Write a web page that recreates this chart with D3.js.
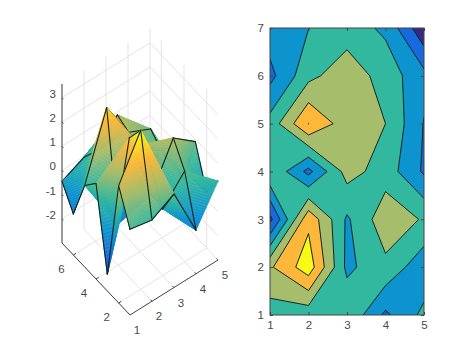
<!DOCTYPE html>
<html>
<head>
<meta charset="utf-8">
<script src="https://cdn.jsdelivr.net/npm/d3@7"></script>
<style>
body { margin: 0; background: #fff; }
text { font-family: "Liberation Sans", sans-serif; font-size: 11.5px; fill: #4a4a4a; }
</style>
</head>
<body>
<div id="chart"></div>
<script>
// grid values
const xVals = [1, 2, 3, 4, 5];
const yVals = [1, 2, 3, 4, 5, 6, 7];
const zY1 = [0.54, 0.36, 0.87, -1.2, 0.26];
const zY2 = [1.85, 3.57, -0.25, 0.75, -0.7];
const zY3 = [-2.3, 2.76, -0.15, 1.62, 0.9];
const zY4 = [0.95, -1.3, 1.4, 0.55, -1.15];
const zY5 = [0.37, 3.02, 1.43, 1.0, -1.05];
const zY6 = [-1.3, 0.7, 1.65, 0.55, -0.7];
const zY7 = [-0.45, -0.02, 0.46, -0.18, -2.8];
const zRows = [zY1, zY2, zY3, zY4, zY5, zY6, zY7];

const levels = [-2, -1, 0, 1, 2, 3];
const xTicks = [1, 2, 3, 4, 5];
const yTicks3d = [2, 4, 6];
const yTicks2d = [1, 2, 3, 4, 5, 6, 7];
const zTicks = [-2, -1, 0, 1, 2, 3];
const parula = ["#352a87", "#1769de", "#0d94cf", "#33b8a0", "#a6bd6c", "#fdb83c", "#f9fa14"];

const lineColor = "#444";
const gridColor = "#e4e4e4";
const meshColor = "#14241c";

const svg = d3.select("#chart")
    .append("svg")
        .attr("width", 474)
        .attr("height", 355)
        .style("display", "block");

// colormap, 0..1
const colormap = d3.scaleLinear()
    .domain(parula.map(function(d, i) { return i / (parula.length - 1); }))
    .range(parula);

const zMin = d3.min(zRows, function(r) { return d3.min(r); });
const zMax = d3.max(zRows, function(r) { return d3.max(r); });
const surfColor = d3.scaleLinear().domain([zMin, zMax]).range([0, 1]);

// ---------- left panel: 3d surface ----------
// oblique projection, one scale per axis and screen direction
const originX = 130, originY = 315;
const xToPx = d3.scaleLinear().domain([1, 5]).range([0, 88]);
const xToPy = d3.scaleLinear().domain([1, 5]).range([0, -55]);
const yToPx = d3.scaleLinear().domain([1, 7]).range([0, -68]);
const yToPy = d3.scaleLinear().domain([1, 7]).range([0, -72]);
const zToPy = d3.scaleLinear().domain([-3, zMax]).range([0, -159]);

function project(p) {
    return [
        originX + xToPx(p[0]) + yToPx(p[1]),
        originY + xToPy(p[0]) + yToPy(p[1]) + zToPy(p[2])
    ];
}

const line = d3.line();
const floorZ = -3;
const topZ = zMax;
const box = svg.append("g");

function seg(a, b, color) {
    box.append("path")
        .attr("d", line([project(a), project(b)]))
        .attr("fill", "none")
        .attr("stroke", color)
        .attr("stroke-width", 1);
}

// grid on the floor and the two back walls
xTicks.forEach(function(x) {
    seg([x, 1, floorZ], [x, 7, floorZ], gridColor);
    seg([x, 7, floorZ], [x, 7, topZ], gridColor);
});
yTicks3d.forEach(function(y) {
    seg([1, y, floorZ], [5, y, floorZ], gridColor);
    seg([5, y, floorZ], [5, y, topZ], gridColor);
});
zTicks.forEach(function(z) {
    seg([1, 7, z], [5, 7, z], gridColor);
    seg([5, 7, z], [5, 1, z], gridColor);
});

// axis lines and ticks
seg([1, 1, floorZ], [5, 1, floorZ], lineColor);
seg([1, 1, floorZ], [1, 7, floorZ], lineColor);
seg([1, 7, floorZ], [1, 7, topZ], lineColor);
xTicks.forEach(function(x) { seg([x, 1, floorZ], [x, 1.12, floorZ], lineColor); });
yTicks3d.forEach(function(y) { seg([1, y, floorZ], [1.12, y, floorZ], lineColor); });
zTicks.forEach(function(z) { seg([1, 7, z], [1, 6.88, z], lineColor); });

// tick labels
xTicks.forEach(function(x) {
    const p = project([x, 1, floorZ]);
    box.append("text").attr("x", p[0] + 7).attr("y", p[1] + 19).attr("text-anchor", "middle").text(x);
});
yTicks3d.forEach(function(y) {
    const p = project([1, y, floorZ]);
    box.append("text").attr("x", p[0] - 12).attr("y", p[1] + 18).attr("text-anchor", "middle").text(y);
});
zTicks.forEach(function(z) {
    const p = project([1, 7, z]);
    box.append("text").attr("x", p[0] - 6).attr("y", p[1] + 0).attr("text-anchor", "end").text(String(z));
});

// keep the part of a polygon on one side of a z value
function clipZ(poly, z0, keepAbove) {
    const out = [];
    poly.forEach(function(a, i) {
        const b = poly[(i + 1) % poly.length];
        const aIn = keepAbove ? a[2] >= z0 : a[2] <= z0;
        const bIn = keepAbove ? b[2] >= z0 : b[2] <= z0;
        if (aIn) out.push(a);
        if (aIn !== bIn) {
            const t = (z0 - a[2]) / (b[2] - a[2]);
            out.push([a[0] + (b[0] - a[0]) * t, a[1] + (b[1] - a[1]) * t, z0]);
        }
    });
    return out;
}

// interpolated shading: cut every triangle into thin bands of equal z
const items = [];
const bandEdges = d3.range(0, 129).map(d3.scaleLinear().domain([0, 128]).range([zMin, zMax]));

function addTriangle(tri) {
    const lo = d3.min(tri, function(p) { return p[2]; });
    const hi = d3.max(tri, function(p) { return p[2]; });
    d3.pairs(bandEdges).forEach(function(e) {
        if (e[1] < lo || e[0] > hi) return;
        const piece = clipZ(clipZ(tri, e[0], true), e[1], false);
        if (piece.length < 3) return;
        const color = colormap(surfColor((e[0] + e[1]) / 2));
        items.push({d: line(piece.map(project)) + "Z", fill: color, stroke: color, width: 0.6});
    });
}

function addEdge(a, b) {
    items.push({d: line([project(a), project(b)]), fill: "none", stroke: meshColor, width: 1.1});
}

// paint from the far corner to the near one. An edge goes right after the
// far triangle that owns it: that triangle cannot hide its own edge, the near
// one still can hide it where the surface folds over
for (let r = yVals.length - 2; r >= 0; r--) {
    for (let c = xVals.length - 2; c >= 0; c--) {
        const p00 = [xVals[c], yVals[r], zRows[r][c]];
        const p10 = [xVals[c + 1], yVals[r], zRows[r][c + 1]];
        const p01 = [xVals[c], yVals[r + 1], zRows[r + 1][c]];
        const p11 = [xVals[c + 1], yVals[r + 1], zRows[r + 1][c + 1]];
        addTriangle([p10, p11, p01]);
        addEdge(p01, p11);
        addEdge(p10, p11);
        addTriangle([p00, p10, p01]);
        // front rim, the reference has no line on its last stretch
        if (r === 0 && c < xVals.length - 2) addEdge(p00, p10);
        if (c === 0) addEdge(p00, p01);
    }
}

svg.append("g")
    .selectAll("path")
    .data(items)
    .join("path")
        .attr("d", function(d) { return d.d; })
        .attr("fill", function(d) { return d.fill; })
        .attr("stroke", function(d) { return d.stroke; })
        .attr("stroke-width", function(d) { return d.width; })
        .attr("stroke-linecap", "round")
        .attr("stroke-linejoin", "round");

// ---------- right panel: filled contour ----------
const margin = {top: 28, right: 50, bottom: 40, left: 270};
const width = 474 - margin.left - margin.right;
const height = 355 - margin.top - margin.bottom;

const panel = svg.append("g")
    .attr("transform", `translate(${margin.left}, ${margin.top})`);

const xScale = d3.scaleLinear().domain([1, 5]).range([0, width]);
const yScale = d3.scaleLinear().domain([1, 7]).range([height, 0]);
const bandColor = d3.scaleLinear().domain([-3, 3]).range([0, 1]);

// marching squares with straight pieces in each cell. d3.contours settles
// saddle cells its own way, here the mean of the corners decides
function contourLevel(level) {
    let fill = "", stroke = "";
    const toPath = function(pts) {
        return line(pts.map(function(p) { return [xScale(p[0]), yScale(p[1])]; }));
    };
    for (let r = 0; r < yVals.length - 1; r++) {
        for (let c = 0; c < xVals.length - 1; c++) {
            const corners = [
                [xVals[c], yVals[r], zRows[r][c]],
                [xVals[c + 1], yVals[r], zRows[r][c + 1]],
                [xVals[c + 1], yVals[r + 1], zRows[r + 1][c + 1]],
                [xVals[c], yVals[r + 1], zRows[r + 1][c]]
            ];
            const above = corners.map(function(p) { return p[2] >= level; });
            const cross = corners.map(function(a, i) {
                const b = corners[(i + 1) % 4];
                if (above[i] === above[(i + 1) % 4]) return null;
                const t = (level - a[2]) / (b[2] - a[2]);
                return [a[0] + (b[0] - a[0]) * t, a[1] + (b[1] - a[1]) * t];
            });
            const count = d3.sum(above, function(d) { return d ? 1 : 0; });
            if (count === 0) continue;
            const saddle = count === 2 && above[0] === above[2];
            const joined = d3.mean(corners, function(p) { return p[2]; }) >= level;

            if (!saddle || joined) {
                const poly = [];
                corners.forEach(function(p, i) {
                    if (above[i]) poly.push([p[0], p[1]]);
                    if (cross[i]) poly.push(cross[i]);
                });
                fill += toPath(poly) + "Z";
            } else {
                corners.forEach(function(p, i) {
                    if (above[i]) fill += toPath([cross[(i + 3) % 4], [p[0], p[1]], cross[i]]) + "Z";
                });
            }

            if (saddle) {
                // line goes round the corners that stay cut off
                corners.forEach(function(p, i) {
                    if (above[i] !== joined) stroke += toPath([cross[(i + 3) % 4], cross[i]]);
                });
            } else if (count < 4) {
                const ends = cross.filter(function(d) { return d; });
                stroke += toPath(ends);
            }
        }
    }
    return {level: level, fill: fill, stroke: stroke};
}

const bands = levels.map(contourLevel);

panel.append("clipPath")
    .attr("id", "plot-clip")
    .append("rect")
        .attr("width", width)
        .attr("height", height);

const plot = panel.append("g").attr("clip-path", "url(#plot-clip)");

plot.append("rect")
    .attr("width", width)
    .attr("height", height)
    .attr("fill", colormap(0));

plot.selectAll("path.band")
    .data(bands)
    .join("path")
        .attr("class", "band")
        .attr("d", function(d) { return d.fill; })
        .attr("fill", function(d) { return colormap(bandColor(d.level)); });

plot.selectAll("path.edge")
    .data(bands)
    .join("path")
        .attr("class", "edge")
        .attr("d", function(d) { return d.stroke; })
        .attr("fill", "none")
        .attr("stroke", "#12251f")
        .attr("stroke-width", 1)
        .attr("stroke-linejoin", "round");

// axes, the box repeats the ticks on top and right
const xAxis = d3.axisBottom(xScale).tickValues(xTicks).tickSize(-3).tickPadding(6).tickFormat(d3.format("d"));
const yAxis = d3.axisLeft(yScale).tickValues(yTicks2d).tickSize(-3).tickPadding(6).tickFormat(d3.format("d"));
const xAxisTop = d3.axisTop(xScale).tickValues(xTicks).tickSize(-3).tickFormat("");
const yAxisRight = d3.axisRight(yScale).tickValues(yTicks2d).tickSize(-3).tickFormat("");

const axes = [
    panel.append("g").attr("transform", `translate(0, ${height})`).call(xAxis),
    panel.append("g").call(yAxis),
    panel.append("g").call(xAxisTop),
    panel.append("g").attr("transform", `translate(${width}, 0)`).call(yAxisRight)
];
axes.forEach(function(g) {
    g.attr("font-size", null).attr("font-family", null);
    g.selectAll(".domain").remove();
    g.selectAll("line").attr("stroke", lineColor);
});

panel.append("rect")
    .attr("width", width)
    .attr("height", height)
    .attr("fill", "none")
    .attr("stroke", lineColor)
    .attr("stroke-width", 1);
</script>
</body>
</html>
